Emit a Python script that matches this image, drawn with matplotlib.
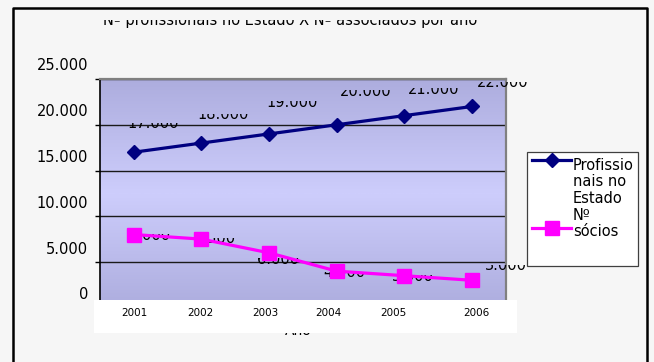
import matplotlib
matplotlib.use('Agg')
import matplotlib.pyplot as plt
import numpy as np
from matplotlib.colors import LinearSegmentedColormap
from matplotlib.patches import Rectangle
from matplotlib.lines import Line2D
from matplotlib.transforms import ScaledTranslation, Bbox

title = 'Nº profissionais no Estado X Nº associados por ano'
years = ['2001', '2002', '2003', '2004', '2005', '2006']
profissionais = [17000, 18000, 19000, 20000, 21000, 22000]
socios = [8000, 7500, 6000, 4000, 3500, 3000]
yticks = [0, 5000, 10000, 15000, 20000, 25000]
legend_prof = ['Profissio', 'nais no', 'Estado']
legend_soc = ['Nº', 'sócios']

# label offsets in pixels (dx, dy downwards)
prof_off = [(19, -24), (22, -24), (23, -27), (29, -29), (29, -22), (31, -19)]
soc_off = [(15, 5), (13, 4), (9, 11), (8, 6), (8, 5), (34, -10)]
year_shift = [1, -1, -4, -8, -11, 4]

W, H = 654, 362
DPI = 100
fig = plt.figure(figsize=(W / DPI, H / DPI), dpi=DPI, facecolor='#f6f6f6')


def fx(px):
    return px / W


def fy(py):
    return 1 - py / H


def fmt(v):
    return f'{v:,}'.replace(',', '.')


def px(dx, dy):
    # offset in pixels, dy measured downwards
    return ScaledTranslation(dx / DPI, -dy / DPI, fig.dpi_scale_trans)


def cut_top(t, keep):
    # only the lower part of the text (keep px above the baseline) stays visible
    bx, by = t.get_transform().transform(t.get_position())
    t.set_clip_path(None)
    t.set_clip_box(Bbox([[0, by - 8], [W, by + keep]]))
    t.set_clip_on(True)


ax = fig.add_axes([fx(100), fy(307.75), fx(506) - fx(100), fy(79) - fy(307.75)])
x = np.arange(len(years))
ax.set_xlim(-0.5, len(years) - 0.5)
ax.set_ylim(0, 25000)

cmap = LinearSegmentedColormap.from_list('bg', ['#adadde', '#cdcdfc'])
t = np.linspace(0, 1, 256)
grad = 1 - np.abs(t - 0.5) * 2
ax.imshow(grad[:, None], extent=(-0.5, len(years) - 0.5, 0, 25000), aspect='auto',
          cmap=cmap, zorder=0, interpolation='bilinear')

ax.set_yticks(yticks)
ax.set_yticklabels([fmt(v) for v in yticks])
ax.tick_params(axis='y', direction='out', length=3.6, width=1, pad=5, labelsize=10.5)
for lab in ax.get_yticklabels():
    lab.set_transform(lab.get_transform() + px(0, -14.5))
ax.set_xticks([])
ax.grid(axis='y', color='#1a1a1a', lw=1.0)

ax.spines['left'].set_color('black')
ax.spines['left'].set_linewidth(1.2)
for s in ['top', 'right']:
    ax.spines[s].set_color('#808080')
    ax.spines[s].set_linewidth(1.6)
ax.spines['bottom'].set_visible(False)

ax.plot(x, profissionais, color='#000080', lw=2.3, marker='D', ms=7,
        zorder=4, clip_on=False)
ax.plot(x, socios, color='#ff00ff', lw=2.3, marker='s', ms=9.5,
        zorder=4, clip_on=False)

for i, v in enumerate(profissionais):
    tx = ax.text(x[i], v, fmt(v), ha='center', va='baseline', fontsize=10.5,
                 transform=ax.transData + px(*prof_off[i]), zorder=3)
    cut_top(tx, 5.5)
for i, v in enumerate(socios):
    tx = ax.text(x[i], v, fmt(v), ha='center', va='baseline', fontsize=10.5,
                 transform=ax.transData + px(*soc_off[i]), zorder=3)
    cut_top(tx, 5.5)

# axis title mostly hidden under the white label box
ano = ax.text(fx(298), fy(335), 'Ano', ha='center', va='baseline', fontsize=10,
              transform=fig.transFigure, zorder=8)
ano.set_clip_path(None)

box = Rectangle((fx(94), fy(333)), fx(517) - fx(94), fy(300) - fy(333),
                transform=fig.transFigure, facecolor='white', edgecolor='none',
                zorder=9, clip_on=False)
ax.add_patch(box)

for i, yr in enumerate(years):
    tx = ax.text(x[i], 0, yr, ha='center', va='center', fontsize=7.5,
                 transform=ax.transData + px(year_shift[i], 5.5), zorder=10)
    tx.set_clip_path(None)

ttl = fig.text(fx(290), fy(25), title, ha='center', va='baseline', fontsize=10.5)
cut_top(ttl, 5.5)

# legend
fig.add_artist(Rectangle((fx(527), fy(266)), fx(638) - fx(527), fy(152) - fy(266),
                         transform=fig.transFigure, facecolor='white',
                         edgecolor='#404040', lw=0.9))
fig.add_artist(Line2D([fx(532), fx(552), fx(571)], [fy(160)] * 3, color='#000080',
                      lw=2.3, marker='D', ms=7, markevery=[1], transform=fig.transFigure))
fig.add_artist(Line2D([fx(532), fx(552), fx(571)], [fy(228)] * 3, color='#ff00ff',
                      lw=2.3, marker='s', ms=9.5, markevery=[1], transform=fig.transFigure))
for j, s in enumerate(legend_prof):
    fig.text(fx(573), fy(165 + 16.8 * j), s, ha='left', va='center', fontsize=10.5)
for j, s in enumerate(legend_soc):
    fig.text(fx(573), fy(215 + 16.5 * j), s, ha='left', va='center', fontsize=10.5)

# outer frame, open at the bottom
fig.add_artist(Line2D([fx(13), fx(13), fx(647), fx(647)], [0, fy(8), fy(8), 0],
                      color='black', lw=1.8, transform=fig.transFigure))

fig.savefig('out.png', dpi=DPI, facecolor=fig.get_facecolor())
